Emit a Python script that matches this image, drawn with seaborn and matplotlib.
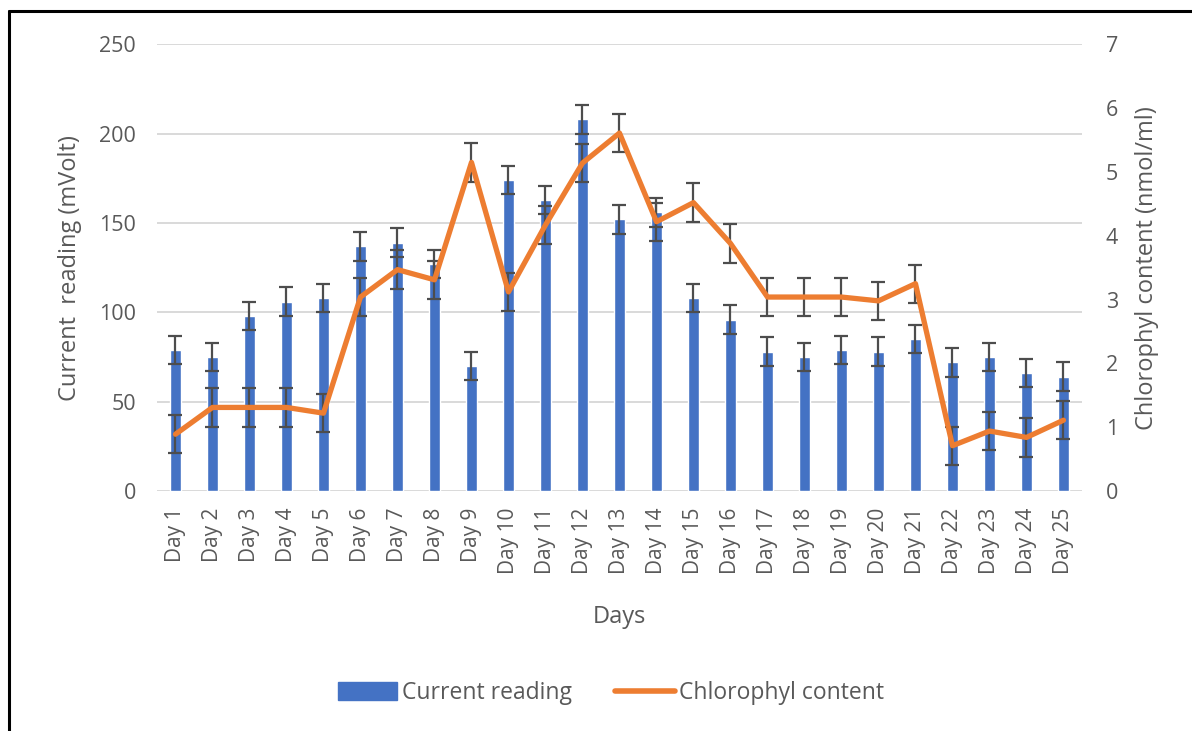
import numpy as np
import matplotlib.pyplot as plt
import seaborn as sns
from matplotlib.patches import Patch
from matplotlib.lines import Line2D

days = ['Day %d' % i for i in range(1, 26)]
current = [79, 75, 98, 106, 108, 137, 139, 127, 70, 174, 163, 208, 152,
           156, 108, 96, 78, 75, 79, 78, 85, 72, 75, 66, 64]
current_err = [8, 8, 8, 8, 8, 8, 8, 8, 8, 8, 8, 8, 8,
               8, 8, 8, 8, 8, 8, 8, 8, 8, 8, 8, 8]
chl = [0.89, 1.31, 1.31, 1.31, 1.22, 3.04, 3.47, 3.31, 5.15, 3.12, 4.17, 5.14, 5.61,
       4.22, 4.52, 3.88, 3.04, 3.04, 3.04, 2.98, 3.25, 0.71, 0.94, 0.84, 1.11]
chl_err = [0.3, 0.3, 0.3, 0.3, 0.3, 0.3, 0.3, 0.3, 0.3, 0.3, 0.3, 0.3, 0.3,
           0.3, 0.3, 0.3, 0.3, 0.3, 0.3, 0.3, 0.3, 0.3, 0.3, 0.3, 0.3]

sns.set_theme(style='white')
plt.rcParams['font.family'] = ['Open Sans', 'DejaVu Sans']
txt = '#595959'
blue = '#4472C4'
orange = '#ED7D31'
grid = '#D9D9D9'

fig = plt.figure(figsize=(11.92, 7.31), dpi=100)
ax = fig.add_axes([0.1317, 0.3283, 0.776, 0.611])

sns.barplot(x=days, y=current, color=blue, width=0.32, saturation=1,
            errorbar=None, ax=ax, zorder=2)
x = np.arange(len(days))
ax.errorbar(x, current, yerr=current_err, fmt='none', ecolor='#4d4d4d',
            elinewidth=1.6, capsize=5, capthick=1.6, zorder=3)
ax.set_xlim(-0.5, 24.5)
ax.set_ylim(0, 250)
ax.set_yticks(range(0, 251, 50))
ax.grid(axis='y', color=grid, lw=1.4)
ax.set_axisbelow(True)
for s in ax.spines.values():
    s.set_visible(False)
ax.tick_params(axis='y', length=0, pad=15, labelsize=15.5, labelcolor=txt)
ax.tick_params(axis='x', length=0, pad=12, labelsize=15, labelcolor=txt, rotation=90)
ax.set_xlabel('Days', fontsize=17, color=txt, labelpad=22)
ax.set_ylabel('Current  reading (mVolt)', fontsize=17, color=txt, labelpad=12)

ax2 = ax.twinx()
ax2.errorbar(x, chl, yerr=chl_err, fmt='none', ecolor='#4d4d4d',
             elinewidth=1.6, capsize=5, capthick=1.6, zorder=1)
sns.lineplot(x=x, y=chl, ax=ax2, color=orange, lw=3.8, zorder=2,
             solid_joinstyle='round', solid_capstyle='round')
ax2.set_ylim(0, 7)
ax2.set_yticks(range(0, 8))
for s in ax2.spines.values():
    s.set_visible(False)
ax2.grid(False)
ax2.tick_params(axis='y', length=0, pad=17, labelsize=15.5, labelcolor=txt)
ax2.set_ylabel('Chlorophyl content (nmol/ml)', fontsize=17, color=txt, labelpad=12)

handles = [Patch(facecolor=blue, edgecolor=blue),
           Line2D([0], [0], color=orange, lw=4, solid_capstyle='round')]
fig.legend(handles, ['Current reading', 'Chlorophyl content'], loc='center',
           bbox_to_anchor=(611 / 1192, 1 - 693 / 731), ncol=2, frameon=False,
           fontsize=16.5, labelcolor=txt, handlelength=2.6, handleheight=0.8,
           handletextpad=0.2, columnspacing=1.9)

# screenshot frame (top and left edges)
fig.add_artist(Line2D([8.5 / 1192, 1], [1 - 10.5 / 731, 1 - 10.5 / 731],
                      color='black', lw=2.2, transform=fig.transFigure))
fig.add_artist(Line2D([8.5 / 1192, 8.5 / 1192], [0, 1 - 10.5 / 731],
                      color='black', lw=2.2, transform=fig.transFigure))

fig.savefig('out.png', dpi=100)
